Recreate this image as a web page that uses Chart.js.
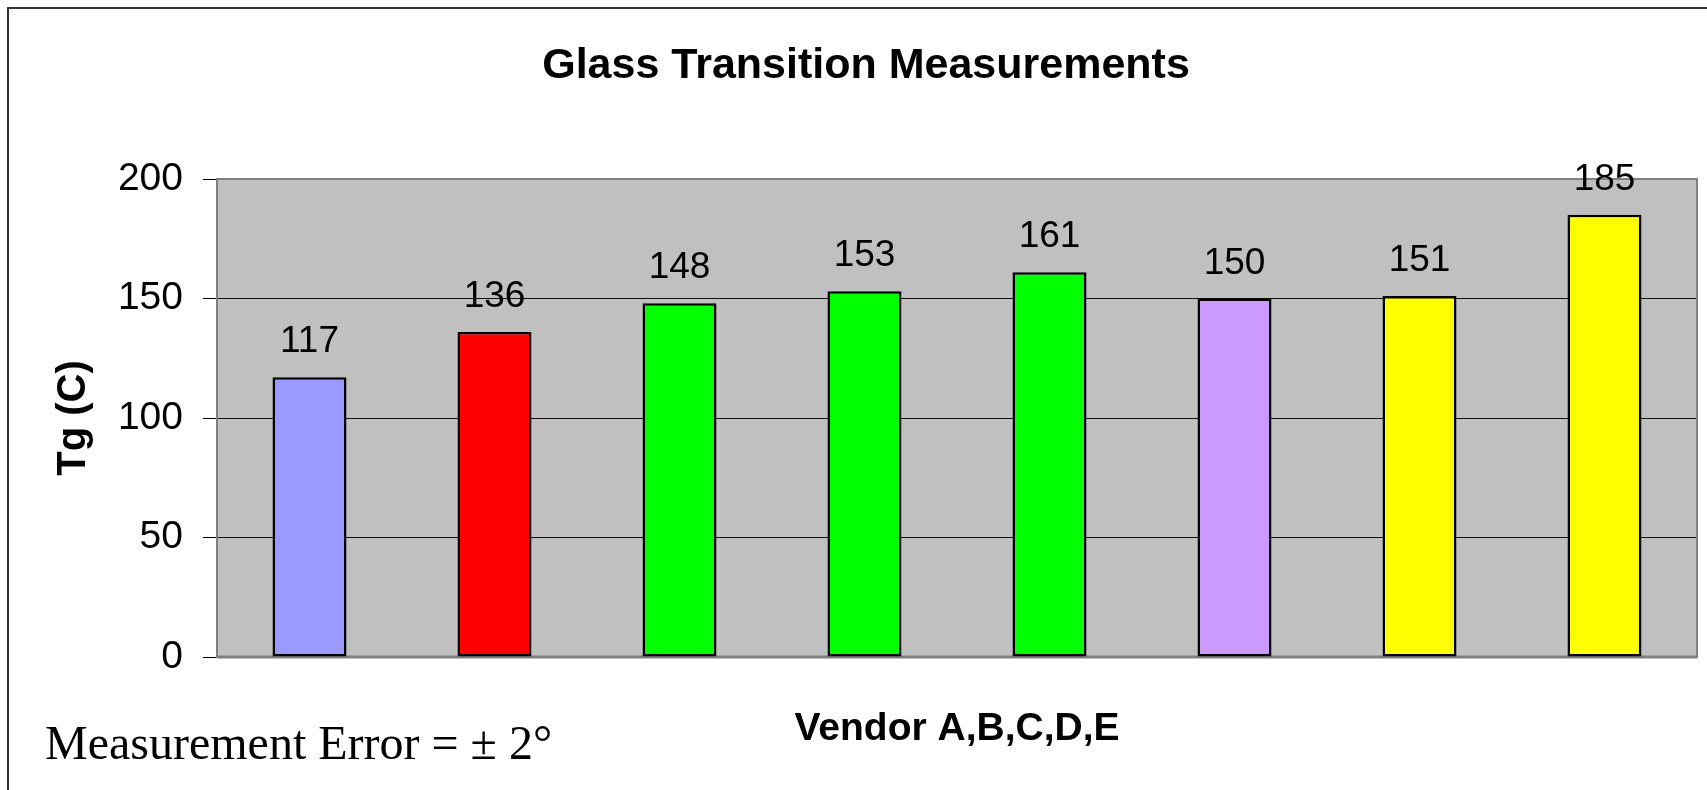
<!DOCTYPE html>
<html>
<head>
<meta charset="utf-8">
<title>Glass Transition Measurements</title>
<script src="https://cdn.jsdelivr.net/npm/chart.js"></script>
<style>
    html, body { margin: 0; padding: 0; background: #fff; }
    canvas { display: block; }
</style>
</head>
<body>
<canvas id="tgChart" width="1707" height="790"></canvas>
<script>
// Glass transition chart - one bar per sample, coloured by vendor

const sampleLabels = ['A', 'B', 'C-1', 'C-2', 'C-3', 'D', 'E-1', 'E-2'];
const tgValues = [117, 136, 148, 153, 161, 150, 151, 185];
const barColors = ['#9999FF', '#FF0000', '#00FF00', '#00FF00', '#00FF00', '#CC99FF', '#FFFF00', '#FFFF00'];
const yMin = 0;
const yMax = 200;
const yStep = 50;

const chartTitle = 'Glass Transition Measurements';
const errorNote = 'Measurement Error = \u00B1 2\u00B0';

const sansFont = 'Arial, "Liberation Sans", sans-serif';
const serifFont = '"Times New Roman", "Liberation Serif", serif';

Chart.defaults.font.family = sansFont;
Chart.defaults.color = '#000';

/**
 * Grey plot area, outer frame and the plot border
 */
const plotAreaPlugin = {
    id: 'plotArea',
    beforeDraw(chart) {
        const ctx = chart.ctx;
        const area = chart.chartArea;
        ctx.save();
        ctx.fillStyle = '#fff';
        ctx.fillRect(0, 0, chart.width, chart.height);

        // frame round the whole picture (top and left only show)
        ctx.strokeStyle = '#333';
        ctx.lineWidth = 2;
        ctx.beginPath();
        ctx.moveTo(8, chart.height);
        ctx.lineTo(8, 8);
        ctx.lineTo(chart.width, 8);
        ctx.stroke();

        ctx.fillStyle = '#C0C0C0';
        ctx.fillRect(area.left, area.top, area.right - area.left, area.bottom - area.top);
        ctx.restore();
    },
    beforeDatasetsDraw(chart) {
        const ctx = chart.ctx;
        const area = chart.chartArea;
        ctx.save();
        ctx.strokeStyle = '#808080';
        ctx.lineWidth = 2;
        ctx.strokeRect(area.left, area.top, area.right - area.left, area.bottom - area.top);
        ctx.lineWidth = 3;
        ctx.beginPath();
        ctx.moveTo(area.left, area.bottom);
        ctx.lineTo(area.right, area.bottom);
        ctx.stroke();
        ctx.restore();
    }
};

/**
 * Title, value above each bar and the note in the lower left corner
 */
const textPlugin = {
    id: 'chartTexts',
    afterDatasetsDraw(chart) {
        const ctx = chart.ctx;
        const meta = chart.getDatasetMeta(0);
        ctx.save();
        ctx.font = '37px ' + sansFont;
        ctx.fillStyle = '#000';
        ctx.textAlign = 'center';
        ctx.textBaseline = 'alphabetic';
        meta.data.forEach((bar, i) => {
            ctx.fillText(String(tgValues[i]), bar.x, bar.y - 25);
        });
        ctx.restore();
    },
    afterDraw(chart) {
        const ctx = chart.ctx;
        ctx.save();
        ctx.fillStyle = '#000';
        ctx.textBaseline = 'alphabetic';

        ctx.font = 'bold 43px ' + sansFont;
        ctx.textAlign = 'center';
        ctx.fillText(chartTitle, 866, 78);

        ctx.font = '48px ' + serifFont;
        ctx.textAlign = 'left';
        ctx.fillText(errorNote, 45, 759);
        ctx.restore();
    }
};

const tgCtx = document.getElementById('tgChart');
const tgChart = new Chart(tgCtx, {
    type: 'bar',
    data: {
        labels: sampleLabels,
        datasets: [{
            data: tgValues,
            backgroundColor: barColors,
            borderColor: '#000',
            borderWidth: 2.5,
            borderSkipped: false,
            barPercentage: 0.4,
            categoryPercentage: 1.0
        }]
    },
    options: {
        responsive: false,
        animation: false,
        layout: {
            padding: { left: 0, right: 10, top: 179, bottom: 0 }
        },
        plugins: {
            legend: { display: false },
            tooltip: { enabled: false },
            title: { display: false }
        },
        scales: {
            x: {
                grid: { display: false, drawTicks: false },
                border: { display: false },
                ticks: { display: false },
                title: {
                    display: true,
                    text: 'Vendor A,B,C,D,E',
                    color: '#000',
                    font: { size: 39, weight: 'bold' },
                    padding: { top: 0, bottom: 37 }
                },
                afterFit(scale) {
                    scale.height = 133;
                }
            },
            y: {
                min: yMin,
                max: yMax,
                border: { display: false },
                grid: {
                    color: (c) => (c.tick && (c.tick.value === yMin || c.tick.value === yMax)) ? 'rgba(0,0,0,0)' : '#111',
                    lineWidth: 1,
                    tickColor: '#000',
                    tickLength: 14,
                    drawTicks: true
                },
                ticks: {
                    stepSize: yStep,
                    padding: 20,
                    color: '#000',
                    font: { size: 39 }
                },
                title: {
                    display: true,
                    text: 'Tg (C)',
                    color: '#000',
                    font: { size: 40, weight: 'bold' },
                    padding: { top: 50, bottom: 0 }
                },
                afterFit(scale) {
                    scale.width = 217;
                }
            }
        }
    },
    plugins: [plotAreaPlugin, textPlugin]
});
</script>
</body>
</html>
